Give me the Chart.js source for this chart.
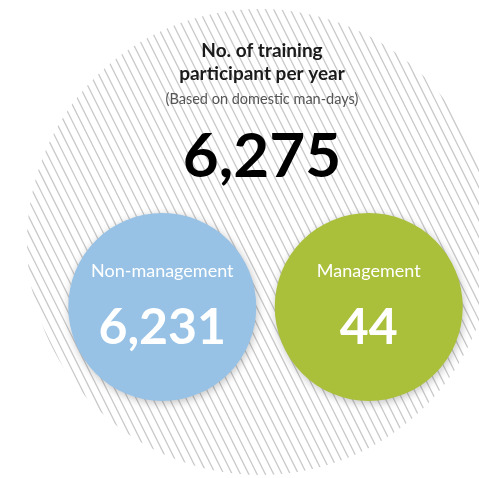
<!DOCTYPE html>
<html><head><meta charset="utf-8">
<script src="https://cdn.jsdelivr.net/npm/chart.js@4/dist/chart.umd.min.js"></script>
<style>html,body{margin:0;padding:0;background:#fff;overflow:hidden}#wrap{width:479px;height:478px;position:relative}</style>
</head><body><div id="wrap"><canvas id="c" width="479" height="478"></canvas></div>
<script>
const titleLines = ["No. of training", "participant per year"];
const subtitleText = "(Based on domestic man-days)";
const totalParticipants = [6275];
const categories = ["Non-management", "Management"];
const participants = [6231, 44];
const bubbleColors = ["#97C2E6", "#AABF3A"];

const fmt = v => v.toLocaleString('en-US');

const hatchPlugin = {
  id: 'hatchCircle',
  beforeDatasetsDraw(chart, args, o) {
    const ctx = chart.ctx;
    ctx.save();
    ctx.beginPath();
    ctx.arc(o.cx, o.cy, o.r, 0, Math.PI * 2);
    ctx.clip();
    ctx.strokeStyle = o.color;
    ctx.lineWidth = o.lineWidth;
    const slope = o.slope;
    const h = chart.height;
    for (let x0 = -h; x0 < chart.width + h; x0 += o.spacing) {
      ctx.beginPath();
      ctx.moveTo(x0, 0);
      ctx.lineTo(x0 + slope * h, h);
      ctx.stroke();
    }
    ctx.restore();
  }
};

const shadowPlugin = {
  id: 'bubbleShadow',
  beforeDatasetDraw(chart) {
    const ctx = chart.ctx;
    ctx.save();
    ctx.shadowColor = 'rgba(0,0,0,0.25)';
    ctx.shadowBlur = 8;
    ctx.shadowOffsetX = 1;
    ctx.shadowOffsetY = 2;
  },
  afterDatasetDraw(chart) { chart.ctx.restore(); }
};

const textPlugin = {
  id: 'infoText',
  afterDatasetsDraw(chart, args, o) {
    const ctx = chart.ctx;
    ctx.save();
    ctx.textAlign = 'center';
    ctx.textBaseline = 'alphabetic';
    ctx.fillStyle = '#1a1a1a';
    ctx.font = 'bold 19px Lato';
    ctx.fillText(titleLines[0], o.titleX, 57);
    ctx.fillText(titleLines[1], o.titleX, 80);
    ctx.fillStyle = '#555';
    ctx.font = '14.5px Lato';
    ctx.fillText(subtitleText, o.titleX, 104);
    ctx.fillStyle = '#000';
    ctx.font = 'bold 62px Lato';
    ctx.fillText(fmt(totalParticipants[0]), o.titleX, 177);
    const meta = chart.getDatasetMeta(0);
    meta.data.forEach((pt, i) => {
      ctx.fillStyle = '#fff';
      ctx.font = '18px Lato';
      ctx.fillText(categories[i], pt.x, pt.y - 30);
      ctx.font = 'bold 50px Lato';
      ctx.fillText(fmt(participants[i]), pt.x, pt.y + 37);
    });
    ctx.restore();
  }
};

new Chart(document.getElementById('c'), {
  type: 'scatter',
  data: {
    datasets: [{
      data: categories.map((c, i) => ({ x: c, y: 0, v: participants[i] })),
      pointRadius: 94,
      pointHoverRadius: 94,
      pointBackgroundColor: bubbleColors,
      pointBorderWidth: 0,
      borderWidth: 0,
      clip: false
    }]
  },
  options: {
    responsive: false,
    animation: false,
    events: [],
    layout: { autoPadding: false, padding: { left: 59, right: 7, top: 213, bottom: 77 } },
    scales: {
      x: { type: 'category', labels: categories, offset: true, display: false },
      y: { min: -1, max: 1, display: false }
    },
    plugins: {
      legend: { display: false },
      tooltip: { enabled: false },
      hatchCircle: { cx: 260, cy: 242, r: 233, spacing: 8.3, slope: 0.5, color: '#c9c9c9', lineWidth: 1.3 },
      infoText: { titleX: 262 }
    }
  },
  plugins: [hatchPlugin, shadowPlugin, textPlugin]
});
</script>
</body></html>
